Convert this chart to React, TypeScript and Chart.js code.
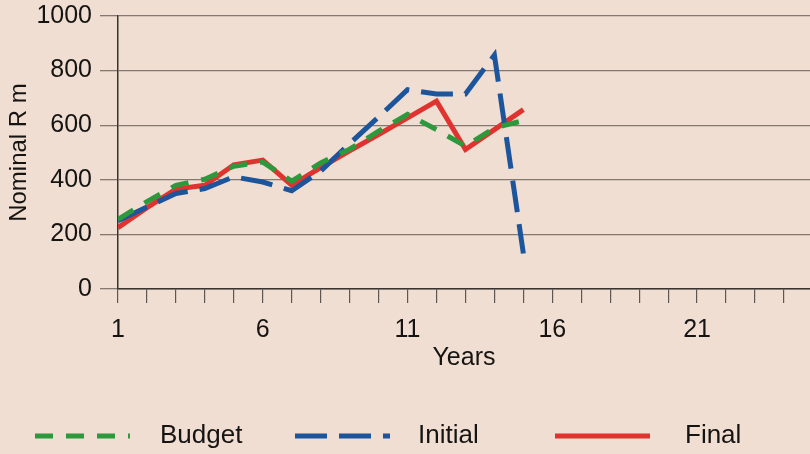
import React, { useEffect, useRef } from "react";
import { Chart, registerables } from "chart.js";

Chart.register(...registerables);

const years = [1, 2, 3, 4, 5, 6, 7, 8, 9, 10, 11, 12, 13, 14, 15];
const budget = [255, 320, 380, 402, 450, 465, 395, 462, 512, 578, 640, 584, 523, 590, 617];
const initial = [250, 300, 350, 368, 411, 392, 360, 432, 533, 630, 730, 714, 714, 857, 130];
const finalValues = [225, 298, 366, 380, 455, 472, 380, 445, 506, 566, 627, 688, 511, 584, 657];
const seriesLabels = ["Budget", "Initial", "Final"];
const xTickLabels = [1, 6, 11, 16, 21];
const yTicks = [0, 200, 400, 600, 800, 1000];

const BG = "#EFDED1";
const FONT = "'Liberation Sans', Arial, sans-serif";
const TEXT = "#161412";

const legendPlugin = {
  id: "customLegend",
  afterDraw(chart: any) {
    const ctx = chart.ctx;
    const lineStarts = [35, 295, 555];
    const textStarts = [160, 418, 685];
    const y = 436;
    ctx.save();
    chart.data.datasets.forEach((ds: any, i: number) => {
      ctx.beginPath();
      ctx.setLineDash(ds.borderDash || []);
      ctx.lineWidth = ds.borderWidth;
      ctx.strokeStyle = ds.borderColor;
      ctx.lineCap = "butt";
      ctx.moveTo(lineStarts[i], y);
      ctx.lineTo(lineStarts[i] + 95, y);
      ctx.stroke();
      ctx.setLineDash([]);
      ctx.fillStyle = TEXT;
      ctx.font = `26px ${FONT}`;
      ctx.textBaseline = "middle";
      ctx.textAlign = "left";
      ctx.fillText(ds.label, textStarts[i], y);
    });
    ctx.restore();
  },
};

const bgPlugin = {
  id: "bg",
  beforeDraw(chart: any) {
    const ctx = chart.ctx;
    ctx.save();
    ctx.fillStyle = BG;
    ctx.fillRect(0, 0, chart.width, chart.height);
    ctx.restore();
  },
};

export default function App() {
  const ref = useRef<HTMLCanvasElement | null>(null);
  useEffect(() => {
    document.body.style.margin = "0";
    document.body.style.background = BG;
    const mk = (arr: number[]) => years.map((x, i) => ({ x, y: arr[i] }));
    const chart = new Chart(ref.current as HTMLCanvasElement, {
      type: "line",
      data: {
        datasets: [
          {
            label: seriesLabels[0],
            data: mk(budget),
            borderColor: "#2c9a3c",
            borderWidth: 5,
            borderDash: [18, 13],
            pointRadius: 0,
            tension: 0,
            fill: false,
          },
          {
            label: seriesLabels[1],
            data: mk(initial),
            borderColor: "#1d559c",
            borderWidth: 5,
            borderDash: [32, 12],
            pointRadius: 0,
            tension: 0,
            fill: false,
          },
          {
            label: seriesLabels[2],
            data: mk(finalValues),
            borderColor: "#e0322e",
            borderWidth: 5,
            pointRadius: 0,
            tension: 0,
            fill: false,
          },
        ],
      },
      options: {
        responsive: false,
        animation: false,
        layout: { padding: { top: 16, right: 0, bottom: 0, left: 0 } },
        plugins: { legend: { display: false }, tooltip: { enabled: false } },
        scales: {
          x: {
            type: "linear",
            min: 1,
            max: 24.9,
            afterFit: (s: any) => {
              s.height = 165;
              s.paddingLeft = 0;
              s.paddingRight = 0;
            },
            border: { color: "#3a3430", width: 1.5 },
            grid: {
              drawOnChartArea: false,
              drawTicks: true,
              tickLength: 14,
              color: "#5e5650",
              lineWidth: 1.2,
            },
            ticks: {
              stepSize: 1,
              includeBounds: false,
              autoSkip: false,
              maxRotation: 0,
              padding: 12,
              color: TEXT,
              font: { family: FONT, size: 25 },
              callback: (v: any) => (xTickLabels.includes(Number(v)) ? String(v) : ""),
            },
            title: {
              display: true,
              text: "Years",
              color: TEXT,
              font: { family: FONT, size: 25 },
              padding: { top: 0, bottom: 81 },
            },
          },
          y: {
            min: 0,
            max: 1000,
            afterFit: (s: any) => {
              s.width = 118;
              s.paddingTop = 0;
              s.paddingBottom = 0;
            },
            border: { color: "#3a3430", width: 1.5 },
            grid: {
              color: "#857870",
              lineWidth: 1.3,
              tickLength: 18,
            },
            afterBuildTicks: (s: any) => {
              s.ticks = yTicks.map((v) => ({ value: v }));
            },
            ticks: {
              padding: 8,
              color: TEXT,
              font: { family: FONT, size: 25 },
              callback: (v: any) => String(v),
            },
            title: {
              display: true,
              text: "Nominal R m",
              color: TEXT,
              font: { family: FONT, size: 24 },
              padding: { top: 5, bottom: 0 },
            },
          },
        },
      },
      plugins: [bgPlugin, legendPlugin],
    } as any);
    return () => chart.destroy();
  }, []);
  return <canvas ref={ref} width={810} height={454} style={{ display: "block" }} />;
}
